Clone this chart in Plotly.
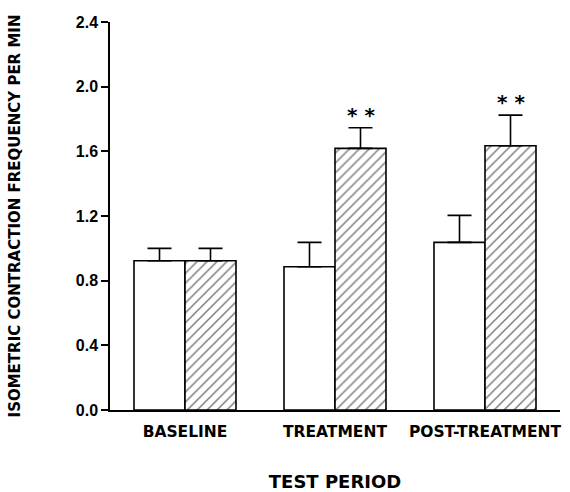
import plotly.graph_objects as go

categories = ["BASELINE", "TREATMENT", "POST-TREATMENT"]
control_vals = [0.923, 0.886, 1.037]
control_err = [0.077, 0.151, 0.167]
hatched_vals = [0.923, 1.618, 1.635]
hatched_err = [0.077, 0.128, 0.189]
signif = ["", "* *", "* *"]
y_ticks = [0.0, 0.4, 0.8, 1.2, 1.6, 2.0, 2.4]
y_tick_labels = ["0.0", "0.4", "0.8", "1.2", "1.6", "2.0", "2.4"]

xpos = list(range(len(categories)))
bargap = 0.32
bw = (1 - bargap) / 2

TITLE_FONT = "DejaVu Sans"
TICK_FONT = "Arial"

fig = go.Figure()
fig.add_trace(go.Bar(
    x=xpos, y=control_vals,
    marker=dict(color="white", line=dict(color="black", width=1.6)),
    error_y=dict(type="data", symmetric=False, array=control_err,
                 arrayminus=[0] * 3, color="black", thickness=1.6, width=12),
    showlegend=False,
))
fig.add_trace(go.Bar(
    x=xpos, y=hatched_vals,
    marker=dict(color="white", line=dict(color="black", width=1.6),
                pattern=dict(shape="/", fgcolor="black", bgcolor="white",
                             size=7, solidity=0.22)),
    error_y=dict(type="data", symmetric=False, array=hatched_err,
                 arrayminus=[0] * 3, color="black", thickness=1.6, width=12),
    showlegend=False,
))

for i, s in enumerate(signif):
    if s:
        fig.add_annotation(x=xpos[i] + bw / 2, y=hatched_vals[i] + hatched_err[i],
                           text="<b>" + s + "</b>", showarrow=False, yanchor="bottom", yshift=-1,
                           font=dict(family=TITLE_FONT, size=20, color="black"))

fig.update_layout(
    width=570, height=492,
    margin=dict(l=110, r=10, t=22, b=82),
    paper_bgcolor="white", plot_bgcolor="white",
    barmode="group", bargap=bargap, bargroupgap=0,
)
fig.update_xaxes(
    range=[-0.5, 2.5], tickvals=xpos,
    ticktext=["<b>" + c + "</b>" for c in categories],
    showline=True, linecolor="black", linewidth=1.5,
    ticks="", showgrid=False, zeroline=False, automargin=False,
    tickfont=dict(family=TITLE_FONT, size=15.5, color="black"),
    ticklabelstandoff=7,
    title=dict(text="<b>TEST PERIOD</b>", standoff=39,
               font=dict(family=TITLE_FONT, size=18, color="black")),
)
fig.update_yaxes(
    range=[0, 2.4], tickvals=y_ticks,
    ticktext=["<b>" + t + "</b>" for t in y_tick_labels],
    showline=True, linecolor="black", linewidth=1.5,
    ticks="outside", ticklen=7, tickwidth=1.5, tickcolor="black",
    showgrid=False, zeroline=False, automargin=False,
    tickfont=dict(family=TICK_FONT, size=16, color="black"),
    title=dict(text="<b>ISOMETRIC CONTRACTION FREQUENCY PER MIN</b>", standoff=52,
               font=dict(family=TITLE_FONT, size=15, color="black")),
)

fig.write_html("out.html")
